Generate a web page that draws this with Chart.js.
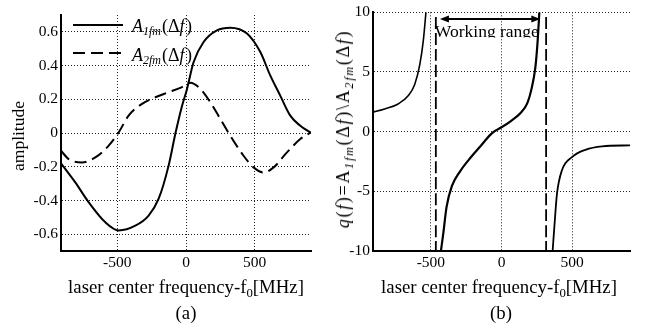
<!DOCTYPE html>
<html lang="en">
<head>
<meta charset="UTF-8">
<title>Amplitude and ratio vs laser frequency</title>
<script src="https://cdn.jsdelivr.net/npm/chart.js"></script>
<style>
    body {
        margin: 0;
        background: #fff;
        font-family: "Liberation Serif", "Times New Roman", serif;
    }
    .wrap { position: relative; width: 646px; height: 330px; }
    .panel { position: absolute; top: 0; width: 323px; height: 330px; }
    .lbl {
        position: absolute;
        font-size: 18.8px;
        line-height: 18px;
        white-space: nowrap;
        color: #000;
    }
    .lbl sub { font-size: 0.68em; vertical-align: -0.3em; line-height: 0; }
    .ctr { transform: translateX(-50%); }
    .rot { transform: translate(-50%, -50%) rotate(-90deg); }
</style>
</head>
<body>
<div class="wrap">
    <div class="panel" style="left:0"><canvas id="chartA" width="323" height="330"></canvas></div>
    <div class="panel" style="left:323px"><canvas id="chartB" width="323" height="330"></canvas></div>

    <div class="lbl ctr" style="left:186px; top:278px">laser center frequency-f<sub>0</sub>[MHz]</div>
    <div class="lbl ctr" style="left:186px; top:304px">(a)</div>
    <div class="lbl ctr" style="left:499px; top:278px">laser center frequency-f<sub>0</sub>[MHz]</div>
    <div class="lbl ctr" style="left:501px; top:304px">(b)</div>

    <div class="lbl rot" style="left:18px; top:136px; font-size:17.5px">amplitude</div>
    <div class="lbl rot" style="left:343px; top:129px; font-size:18px; letter-spacing:1.7px"><i>q</i>(<i>f</i>)=A<sub><i>1fm</i></sub>(Δ<i>f</i>)\A<sub><i>2fm</i></sub>(Δ<i>f</i>)</div>
</div>
<script>
    // panel (a): amplitudes
    const freqA1 = [-910, -806, -709, -587, -490, -369, -272, -199, -127, -78, -29, 7, 55, 128, 225, 322, 444, 541, 614, 686, 759, 832, 910];
    const ampA1 = [-0.18, -0.293, -0.41, -0.53, -0.578, -0.55, -0.49, -0.39, -0.195, -0.006, 0.16, 0.26, 0.42, 0.54, 0.609, 0.625, 0.59, 0.48, 0.34, 0.222, 0.103, 0.043, 0.0];
    const freqA2 = [-910, -854, -757, -660, -563, -490, -418, -320, -223, -127, -29, 31, 104, 177, 250, 322, 419, 492, 565, 638, 735, 832, 910];
    const ampA2 = [-0.105, -0.155, -0.175, -0.145, -0.075, 0.004, 0.103, 0.173, 0.212, 0.242, 0.272, 0.298, 0.262, 0.183, 0.083, -0.016, -0.135, -0.204, -0.234, -0.204, -0.115, -0.036, 0.004];

    // panel (b): ratio q(f), three branches
    const freqQ1 = [-910, -898, -827, -732, -661, -614, -578, -554, -535];
    const q1 = [1.65, 1.68, 1.9, 2.32, 3.0, 3.98, 5.65, 7.6, 10];
    const freqQ2 = [-429, -412, -389, -351, -292, -220, -149, -78, -43, 0, 64, 135, 183, 211, 240, 256, 268];
    const q2 = [-10, -8.5, -6.3, -4.55, -3.3, -2.19, -1.22, -0.25, 0.08, 0.37, 0.87, 1.56, 2.39, 3.5, 5.4, 7.6, 10];
    const freqQ3 = [362, 376, 393, 428, 499, 594, 713, 910];
    const q3 = [-10, -7.7, -5.2, -3.23, -2.13, -1.52, -1.23, -1.15];

    const workingRange = [-465, 316];
    const arrowRange = [-436, 275];

    const xTicks = [-500, 0, 500];
    const yTicksA = [-0.6, -0.4, -0.2, 0, 0.2, 0.4, 0.6];
    const yTicksB = [-10, -5, 0, 5, 10];

    const serif = '"Liberation Serif", "Times New Roman", serif';

    function pts(xs, ys) {
        return xs.map((x, i) => ({x: x, y: ys[i]}));
    }

    function axis(min, max, ticks, extra) {
        return Object.assign({
            type: 'linear',
            min: min,
            max: max,
            afterBuildTicks: s => { s.ticks = ticks.map(v => ({value: v})); },
            grid: {color: '#222', lineWidth: 1, drawTicks: false},
            border: {display: true, color: '#000', width: 2, dash: [1, 2]},
            ticks: {color: '#000', font: {family: serif, size: 15.5}, callback: v => String(v)}
        }, extra);
    }

    function line(data, width, dash) {
        return {
            data: data,
            borderColor: '#000',
            borderWidth: width,
            borderDash: dash || [],
            pointRadius: 0,
            fill: false,
            cubicInterpolationMode: 'monotone'
        };
    }

    function drawFmLabel(ctx, x, y, sub) {
        ctx.fillStyle = '#000';
        ctx.textBaseline = 'alphabetic';
        ctx.textAlign = 'left';
        ctx.font = 'italic 18px ' + serif;
        ctx.fillText('A', x, y);
        x += ctx.measureText('A').width;
        ctx.font = 'italic 12px ' + serif;
        ctx.fillText(sub, x, y + 3);
        x += ctx.measureText(sub).width + 1;
        ctx.font = '18px ' + serif;
        ctx.fillText('(Δ', x, y);
        x += ctx.measureText('(Δ').width;
        ctx.font = 'italic 18px ' + serif;
        ctx.fillText('f', x, y);
        x += ctx.measureText('f').width + 1.5;
        ctx.font = '18px ' + serif;
        ctx.fillText(')', x, y);
    }

    const legendPlugin = {
        id: 'fmLegend',
        afterDraw(chart) {
            const ctx = chart.ctx;
            const a = chart.chartArea;
            ctx.save();
            ctx.strokeStyle = '#000';
            ctx.lineWidth = 2;
            ctx.beginPath();
            ctx.moveTo(a.left + 12, a.top + 10);
            ctx.lineTo(a.left + 62, a.top + 10);
            ctx.stroke();
            ctx.setLineDash([12, 6]);
            ctx.beginPath();
            ctx.moveTo(a.left + 12, a.top + 38);
            ctx.lineTo(a.left + 62, a.top + 38);
            ctx.stroke();
            ctx.setLineDash([]);
            drawFmLabel(ctx, a.left + 71, a.top + 17, '1fm');
            drawFmLabel(ctx, a.left + 71, a.top + 46, '2fm');
            ctx.restore();
        }
    };

    const arrowPlugin = {
        id: 'workingRange',
        afterDatasetsDraw(chart) {
            const ctx = chart.ctx;
            const xs = chart.scales.x, ys = chart.scales.y;
            const x1 = xs.getPixelForValue(arrowRange[0]);
            const x2 = xs.getPixelForValue(arrowRange[1]);
            const y = ys.getPixelForValue(9.44);
            ctx.save();
            ctx.strokeStyle = '#000';
            ctx.fillStyle = '#000';
            ctx.lineWidth = 2;
            ctx.beginPath();
            ctx.moveTo(x1 + 6, y);
            ctx.lineTo(x2 - 6, y);
            ctx.stroke();
            ctx.beginPath();
            ctx.moveTo(x1, y);
            ctx.lineTo(x1 + 9, y - 3.5);
            ctx.lineTo(x1 + 9, y + 3.5);
            ctx.closePath();
            ctx.fill();
            ctx.beginPath();
            ctx.moveTo(x2, y);
            ctx.lineTo(x2 - 9, y - 3.5);
            ctx.lineTo(x2 - 9, y + 3.5);
            ctx.closePath();
            ctx.fill();
            // label is cut at its baseline in the original
            const tx = xs.getPixelForValue(workingRange[0]) - 1;
            const ty = ys.getPixelForValue(7.93);
            ctx.beginPath();
            ctx.rect(tx - 5, ty - 20, 130, 20.5);
            ctx.clip();
            ctx.font = '17.5px ' + serif;
            ctx.textAlign = 'left';
            ctx.textBaseline = 'alphabetic';
            ctx.fillText('Working range', tx, ty);
            ctx.restore();
        }
    };

    new Chart(document.getElementById('chartA'), {
        type: 'line',
        data: {
            datasets: [
                line(pts(freqA1, ampA1), 2),
                line(pts(freqA2, ampA2), 2, [12, 6])
            ]
        },
        options: {
            responsive: false,
            animation: false,
            devicePixelRatio: 1,
            layout: {padding: {left: 0, right: 12, top: 15, bottom: 0}},
            plugins: {legend: {display: false}, tooltip: {enabled: false}},
            scales: {
                x: axis(-910, 910, xTicks, {afterFit: s => { s.height = 79; }}),
                y: axis(-0.7, 0.7, yTicksA, {afterFit: s => { s.width = 61; }})
            }
        },
        plugins: [legendPlugin]
    });

    new Chart(document.getElementById('chartB'), {
        type: 'line',
        data: {
            datasets: [
                line(pts(freqQ1, q1), 1.6),
                line(pts(freqQ2, q2), 2.2),
                line(pts(freqQ3, q3), 1.8),
                line(pts([workingRange[0], workingRange[0]], [9.6, -10]), 1.8, [12, 4]),
                line(pts([workingRange[1], workingRange[1]], [9.6, -10]), 1.8, [12, 4])
            ]
        },
        options: {
            responsive: false,
            animation: false,
            devicePixelRatio: 1,
            layout: {padding: {left: 0, right: 16, top: 10, bottom: 0}},
            plugins: {legend: {display: false}, tooltip: {enabled: false}},
            scales: {
                x: axis(-910, 910, xTicks, {afterFit: s => { s.height = 79; }}),
                y: axis(-10, 10, yTicksB, {afterFit: s => { s.width = 50; }})
            }
        },
        plugins: [arrowPlugin]
    });
</script>
</body>
</html>
